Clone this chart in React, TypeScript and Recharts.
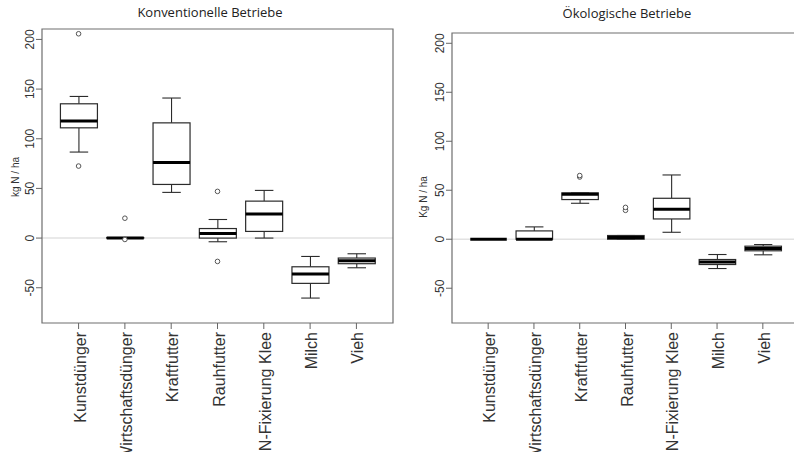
import { Bar, CartesianGrid, ComposedChart, ReferenceArea, Scatter, XAxis, YAxis } from "recharts";

const categories = [
  "Kunstdünger",
  "Wirtschaftsdünger",
  "Kraftfutter",
  "Rauhfutter",
  "N-Fixierung Klee",
  "Milch",
  "Vieh",
];
const yTicks = [-50, 0, 50, 100, 150, 200];

// Konventionelle Betriebe
const konvMin = [86.6, 0, 46, -3.7, 0, -60.4, -29.9];
const konvQ1 = [111, 0, 54, 0, 6.7, -45.6, -25.8];
const konvMedian = [118, 0, 76, 4.6, 24.2, -36.2, -22.8];
const konvQ3 = [135.2, 0.5, 116, 9.6, 37.2, -28.9, -20.1];
const konvMax = [142.6, 0.5, 141, 18.7, 48, -18.5, -15.8];
const konvOutliers = [[205.7, 72.5], [20, -1.4], [], [47, -23.5], [], [], []];

// Ökologische Betriebe
const okoMin = [0, 0, 36.7, 0, 7.1, -29.9, -15.9];
const okoQ1 = [0, 0, 40.5, 0, 20.7, -25.8, -11.8];
const okoMedian = [0, 0, 46, 1.7, 30.6, -23.3, -9.5];
const okoQ3 = [0, 8.5, 47.3, 3.8, 41.8, -20.7, -7.1];
const okoMax = [0, 12.6, 47.3, 3.8, 65.6, -15.6, -5.4];
const okoOutliers = [[], [], [63.5, 65], [29.5, 32.5], [], [], []];

const Y_MIN = -85.5;
const Y_MAX = 210.5;
const X_MIN = 0.21;
const X_MAX = 7.79;

const buildRows = (min: number[], q1: number[], med: number[], q3: number[], max: number[]) =>
  categories.map((name, i) => ({ x: i + 1, name, min: min[i], q1: q1[i], median: med[i], q3: q3[i], max: max[i] }));

const buildOutliers = (out: number[][]) => out.flatMap((vals, i) => vals.map((v) => ({ x: i + 1, y: v })));

const BoxShape = (props: any) => {
  const { x, y, width, height, payload } = props;
  const d = payload;
  // bar spans [Y_MIN, max], so the pixel scale follows from its box
  const py = (v: number) => y + ((d.max - v) / (d.max - Y_MIN)) * height;
  const cx = x + width / 2;
  const cap = width / 4;
  const stroke = "#2b2b2b";
  return (
    <g>
      <line x1={cx} x2={cx} y1={py(d.max)} y2={py(d.q3)} stroke={stroke} strokeWidth={1.1} />
      <line x1={cx} x2={cx} y1={py(d.q1)} y2={py(d.min)} stroke={stroke} strokeWidth={1.1} />
      <line x1={cx - cap} x2={cx + cap} y1={py(d.max)} y2={py(d.max)} stroke={stroke} strokeWidth={1.1} />
      <line x1={cx - cap} x2={cx + cap} y1={py(d.min)} y2={py(d.min)} stroke={stroke} strokeWidth={1.1} />
      <rect x={x} y={py(d.q3)} width={width} height={py(d.q1) - py(d.q3)} fill="#fff" stroke={stroke} strokeWidth={1.2} />
      <line x1={x} x2={x + width} y1={py(d.median)} y2={py(d.median)} stroke="#000" strokeWidth={3} />
    </g>
  );
};

const OutlierShape = (props: any) => (
  <circle cx={props.cx} cy={props.cy} r={2.3} fill="#fff" stroke="#555" strokeWidth={1} />
);

const CategoryTick = ({ x, y, payload }: any) => (
  <text
    x={x + 7}
    y={y + 1}
    transform={`rotate(-90, ${x + 7}, ${y + 1})`}
    textAnchor="end"
    fontFamily="'Liberation Sans', Arial, sans-serif"
    fontSize={16}
    fill="#333"
  >
    {categories[payload.value - 1]}
  </text>
);

const ValueTick = ({ x, y, payload }: any) => (
  <text
    x={x}
    y={y}
    transform={`rotate(-90, ${x}, ${y})`}
    textAnchor="middle"
    fontFamily="'Liberation Sans', Arial, sans-serif"
    fontSize={12}
    fill="#333"
  >
    {payload.value}
  </text>
);

interface PanelProps {
  rows: ReturnType<typeof buildRows>;
  outliers: { x: number; y: number }[];
  yLabel: string;
  width: number;
  top: number;
  right: number;
  barSize: number;
  labelX: number;
  labelDy: number;
}

function Panel({ rows, outliers, yLabel, width, top, right, barSize, labelX, labelDy }: PanelProps) {
  return (
    <ComposedChart width={width} height={452} data={rows} margin={{ top, right, bottom: 0, left: 0 }}>
      <CartesianGrid vertical={false} horizontalValues={[0]} stroke="#e2e2e2" strokeWidth={1.5} />
      <XAxis
        dataKey="x"
        type="number"
        domain={[X_MIN, X_MAX]}
        ticks={[1, 2, 3, 4, 5, 6, 7]}
        interval={0}
        allowDataOverflow
        axisLine={false}
        tickLine={{ stroke: "#666" }}
        tickSize={6}
        height={129}
        tick={<CategoryTick />}
      />
      <YAxis
        type="number"
        domain={[Y_MIN, Y_MAX]}
        ticks={yTicks}
        allowDataOverflow
        axisLine={false}
        tickLine={{ stroke: "#666" }}
        tickSize={6}
        width={42}
        tick={<ValueTick />}
        label={{
          content: ({ viewBox }: any) => {
            const cy = viewBox.y + viewBox.height / 2 + labelDy;
            return (
              <text
                x={labelX}
                y={cy}
                transform={`rotate(-90, ${labelX}, ${cy})`}
                textAnchor="middle"
                dominantBaseline="central"
                fontFamily="'Liberation Sans', Arial, sans-serif"
                fontSize={10}
                fill="#333"
              >
                {yLabel}
              </text>
            );
          },
        }}
      />
      <Bar
        dataKey={(d: any) => [Y_MIN, d.max]}
        barSize={barSize}
        shape={<BoxShape />}
        isAnimationActive={false}
      />
      <Scatter data={outliers} dataKey="y" shape={<OutlierShape />} isAnimationActive={false} />
      <ReferenceArea x1={X_MIN} x2={X_MAX} y1={Y_MIN} y2={Y_MAX} fill="none" stroke="#6e6e6e" strokeWidth={1.2} />
    </ComposedChart>
  );
}

const titleStyle: React.CSSProperties = {
  position: "absolute",
  fontFamily: "'Open Sans', sans-serif",
  fontSize: 13,
  color: "#222",
  textAlign: "center",
  whiteSpace: "nowrap",
};

export default function App() {
  return (
    <div style={{ position: "absolute", left: 0, top: 0, width: 794, height: 452, overflow: "hidden", background: "#fff" }}>
      <div style={{ ...titleStyle, left: 110, width: 200, top: 3 }}>Konventionelle Betriebe</div>
      <div style={{ ...titleStyle, left: 527, width: 200, top: 4 }}>Ökologische Betriebe</div>
      <div style={{ position: "absolute", left: 0, top: 0 }}>
        <Panel
          rows={buildRows(konvMin, konvQ1, konvMedian, konvQ3, konvMax)}
          outliers={buildOutliers(konvOutliers)}
          yLabel="kg N / ha"
          width={400}
          top={29}
          right={7}
          barSize={37}
          labelX={15}
          labelDy={1}
        />
      </div>
      <div style={{ position: "absolute", left: 410, top: 0 }}>
        <Panel
          rows={buildRows(okoMin, okoQ1, okoMedian, okoQ3, okoMax)}
          outliers={buildOutliers(okoOutliers)}
          yLabel="Kg N / ha"
          width={389}
          top={33}
          right={0}
          barSize={36.5}
          labelX={13}
          labelDy={19}
        />
      </div>
    </div>
  );
}
